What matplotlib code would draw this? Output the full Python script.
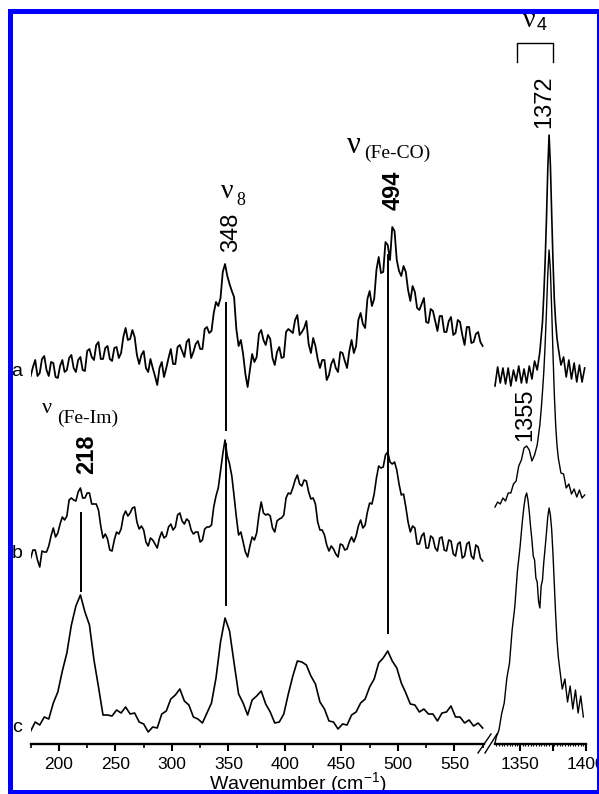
import matplotlib
matplotlib.use('Agg')
import matplotlib.pyplot as plt
from matplotlib.lines import Line2D
from matplotlib.patches import Rectangle

plt.rcParams['font.family'] = ['Liberation Sans', 'DejaVu Sans']
plt.rcParams['mathtext.fontset'] = 'custom'
plt.rcParams['mathtext.rm'] = 'Liberation Sans'

# ---------------- data (Raman intensity, arbitrary units incl. stacking offset) ----------------
wn_left_fine = [175, 177, 179, 181, 183, 185, 187, 189, 191, 193, 195, 197, 199, 201, 203, 205, 207, 209,
                211, 213, 215, 217, 219, 221, 223, 225, 227, 229, 231, 233, 235, 237, 239, 241, 243, 245,
                247, 249, 251, 253, 255, 257, 259, 261, 263, 265, 267, 269, 271, 273, 275, 277, 279, 281,
                283, 285, 287, 289, 291, 293, 295, 297, 299, 301, 303, 305, 307, 309, 311, 313, 315, 317,
                319, 321, 323, 325, 327, 329, 331, 333, 335, 337, 339, 341, 343, 345, 347, 349, 351, 353,
                355, 357, 359, 361, 363, 365, 367, 369, 371, 373, 375, 377, 379, 381, 383, 385, 387, 389,
                391, 393, 395, 397, 399, 401, 403, 405, 407, 409, 411, 413, 415, 417, 419, 421, 423, 425,
                427, 429, 431, 433, 435, 437, 439, 441, 443, 445, 447, 449, 451, 453, 455, 457, 459, 461,
                463, 465, 467, 469, 471, 473, 475, 477, 479, 481, 483, 485, 487, 489, 491, 493, 495, 497,
                499, 501, 503, 505, 507, 509, 511, 513, 515, 517, 519, 521, 523, 525, 527, 529, 531, 533,
                535, 537, 539, 541, 543, 545, 547, 549, 551, 553, 555, 557, 559, 561, 563, 565, 567, 569,
                571, 573, 575]

spec_a_left = [368, 377, 384, 368, 371, 385, 388, 374, 368, 382, 381, 367, 366, 378, 384, 372, 374, 386, 389, 376,
               372, 384, 387, 374, 373, 393, 395, 387, 384, 399, 402, 385, 385, 396, 398, 385, 383, 396, 397, 386,
               391, 407, 416, 404, 405, 414, 407, 389, 380, 389, 393, 376, 372, 385, 376, 368, 359, 376, 382, 367,
               376, 386, 395, 380, 380, 397, 399, 393, 387, 402, 405, 386, 392, 400, 403, 395, 395, 415, 417, 411,
               413, 431, 442, 438, 446, 472, 480, 468, 460, 453, 447, 415, 398, 404, 390, 370, 357, 374, 390, 382,
               387, 410, 414, 404, 399, 409, 405, 386, 379, 392, 397, 386, 387, 412, 415, 413, 411, 424, 429, 409,
               412, 416, 423, 400, 391, 406, 398, 385, 376, 384, 384, 364, 369, 380, 385, 376, 372, 392, 391, 383,
               376, 393, 404, 391, 398, 424, 431, 420, 416, 445, 453, 438, 445, 474, 487, 471, 472, 502, 499, 484,
               517, 513, 484, 473, 468, 478, 472, 454, 443, 458, 452, 436, 434, 440, 446, 422, 421, 435, 433, 423,
               413, 428, 428, 412, 412, 423, 427, 409, 411, 424, 422, 409, 399, 417, 417, 401, 402, 410, 412, 402,
               398]

spec_b_left = [186, 194, 194, 184, 177, 193, 192, 192, 198, 208, 216, 207, 211, 220, 227, 224, 228, 244, 246, 244,
               243, 252, 256, 246, 246, 251, 251, 240, 240, 240, 234, 218, 206, 210, 205, 194, 193, 204, 212, 210,
               215, 228, 233, 228, 231, 236, 237, 222, 215, 218, 214, 202, 198, 206, 204, 200, 196, 206, 212, 206,
               208, 217, 220, 214, 217, 229, 231, 223, 220, 225, 223, 214, 210, 212, 212, 202, 204, 215, 217, 217,
               219, 237, 248, 256, 273, 290, 304, 288, 280, 268, 248, 227, 209, 212, 202, 192, 187, 198, 207, 204,
               211, 229, 242, 231, 229, 230, 228, 216, 212, 223, 225, 226, 229, 246, 251, 250, 256, 264, 269, 260,
               258, 264, 263, 252, 245, 246, 240, 222, 214, 214, 209, 199, 193, 198, 195, 190, 187, 200, 199, 194,
               195, 202, 207, 202, 208, 218, 224, 216, 219, 232, 241, 240, 250, 266, 278, 276, 277, 289, 292, 282,
               280, 282, 274, 260, 249, 250, 237, 222, 212, 218, 216, 200, 200, 208, 211, 196, 196, 208, 206, 196,
               193, 206, 207, 194, 193, 204, 203, 190, 188, 200, 202, 186, 188, 200, 202, 188, 185, 199, 197, 186,
               183]

wn_left_c = [175, 179, 183, 187, 191, 195, 199, 203, 207, 211, 215, 219, 223, 227, 231, 235, 239, 243,
             247, 251, 255, 259, 263, 267, 271, 275, 279, 283, 287, 291, 295, 299, 303, 307, 311, 315,
             319, 323, 327, 331, 335, 339, 343, 347, 351, 355, 359, 363, 367, 371, 375, 379, 383, 387,
             391, 395, 399, 403, 407, 411, 415, 419, 423, 427, 431, 435, 439, 443, 447, 451, 455, 459,
             463, 467, 471, 475, 479, 483, 487, 491, 495, 499, 503, 507, 511, 515, 519, 523, 527, 531,
             535, 539, 543, 547, 551, 555, 559, 563, 567, 571, 575]

spec_c_left = [13, 22, 19, 27, 25, 41, 52, 73, 91, 119,
               138, 149, 132, 119, 84, 57, 29, 29, 28, 34,
               31, 37, 30, 31, 22, 20, 12, 17, 16, 30,
               33, 45, 49, 55, 43, 39, 27, 25, 21, 31,
               41, 66, 102, 126, 113, 81, 50, 41, 29, 44,
               48, 53, 40, 32, 21, 22, 30, 50, 68, 83,
               82, 79, 68, 60, 42, 35, 23, 22, 15, 20,
               19, 29, 32, 41, 45, 57, 65, 81, 86, 93,
               83, 76, 61, 51, 40, 39, 32, 35, 30, 30,
               23, 31, 32, 38, 27, 27, 21, 24, 18, 21, 16]

wn_ab_right = [1331, 1333, 1335, 1337, 1339, 1341, 1343, 1345, 1347, 1349, 1351, 1353, 1355, 1357,
               1359, 1361, 1363, 1365, 1366, 1367, 1368, 1369, 1370, 1371, 1372, 1373, 1374, 1375,
               1376, 1377, 1378, 1379, 1381, 1383, 1385, 1387, 1389, 1391, 1393, 1395, 1397, 1399]

spec_a_right = [358, 377, 361, 376, 360, 376, 358, 374, 363, 378,
                361, 375, 361, 378, 365, 383, 374, 392, 407, 422,
                449, 482, 524, 574, 609, 579, 529, 482, 444, 422,
                406, 396, 379, 387, 367, 384, 365, 381, 362, 379, 362, 376]

spec_b_right = [237, 242, 240, 246, 243, 251, 251, 260, 263, 278,
                284, 296, 298, 294, 283, 289, 299, 319, 334, 352,
                372, 399, 432, 469, 494, 474, 434, 389, 349, 319,
                299, 286, 271, 270, 256, 260, 250, 255, 247, 254, 246, 249]

wn_c_right = [1331, 1332, 1334, 1336, 1338, 1340, 1342, 1344, 1346, 1348, 1350, 1351, 1352, 1353,
              1354, 1355, 1356, 1357, 1358, 1359, 1360, 1361, 1362, 1363, 1364, 1365, 1366, 1367,
              1368, 1369, 1370, 1371, 1372, 1373, 1374, 1375, 1376, 1377, 1378, 1379, 1380, 1382,
              1384, 1386, 1388, 1390, 1392, 1394, 1396, 1398]

spec_c_right = [1, 7, 14, 30, 41, 66, 81, 114, 137, 173,
                197, 212, 226, 238, 247, 251, 244, 232, 217, 204,
                188, 184, 166, 162, 143, 136, 158, 164, 182, 196,
                211, 227, 236, 229, 214, 189, 159, 129, 104, 87,
                76, 55, 65, 42, 58, 35, 54, 31, 48, 27]

# vertical marker lines: (wavenumber, intensity top, intensity bottom)
marker_lines = [(219.5, 231, 153), (348, 441, 314), (348, 300, 139), (491.5, 489, 111)]

left_major = [200, 250, 300, 350, 400, 450, 500, 550]
left_minor = [175, 225, 275, 325, 375, 425, 475, 525, 575]
right_major = [1350, 1375, 1400]
right_major_labels = ['1350', '', '1400']
right_minor = [1332, 1334, 1336, 1338, 1340, 1342, 1344, 1346, 1348, 1352, 1354, 1356, 1358, 1360,
               1362, 1364, 1366, 1368, 1370, 1372, 1374, 1376, 1378, 1380, 1382, 1384, 1386, 1388,
               1390, 1392, 1394, 1396, 1398]

trace_names = ['a', 'b', 'c']

# ---------------- figure ----------------
W, H = 599, 794
fig = plt.figure(figsize=(W / 100, H / 100), dpi=100)


def fx(px):
    return px / W


def fy(py):
    return 1 - py / H


axL = fig.add_axes([fx(30.7), fy(744), fx(484) - fx(30.7), fy(0) - fy(744)])
axR = fig.add_axes([fx(495), fy(744), fx(586) - fx(495), fy(0) - fy(744)])

for ax in (axL, axR):
    ax.set_ylim(0, 744)
    for s in ('left', 'right', 'top'):
        ax.spines[s].set_visible(False)
    ax.spines['bottom'].set_linewidth(1.7)
    ax.yaxis.set_visible(False)
    ax.patch.set_visible(False)
    ax.tick_params(axis='x', which='major', direction='out', length=5, width=1.5,
                   labelsize=12.5, pad=4.5)
    ax.tick_params(axis='x', which='minor', direction='out', length=3, width=1.2)

axL.set_xlim(175, 576.2)
axL.set_xticks(left_major)
axL.set_xticks(left_minor, minor=True)

axR.set_xlim(1331, 1400)
axR.set_xticks(right_major)
axR.set_xticklabels(right_major_labels)
axR.set_xticks(right_minor, minor=True)
axR.tick_params(axis='x', which='minor', length=1.5, width=0.8)

axL.plot(wn_left_fine, spec_a_left, color='black', lw=1.3)
axL.plot(wn_left_fine, spec_b_left, color='black', lw=1.2)
axL.plot(wn_left_c, spec_c_left, color='black', lw=1.2)
axR.plot(wn_ab_right, spec_a_right, color='black', lw=1.2, clip_on=False)
axR.plot(wn_ab_right, spec_b_right, color='black', lw=1.0, clip_on=False)
axR.plot(wn_c_right, spec_c_right, color='black', lw=1.0, clip_on=False)

for x, ytop, ybot in marker_lines:
    axL.plot([x, x], [ybot, ytop], color='black', lw=1.4)

serif = ['Liberation Serif', 'DejaVu Serif']
# nu (Fe-Im)
axL.text(184.7, 331, 'ν', family=serif, fontsize=16, ha='left', va='baseline')
axL.text(198.8, 321, '(Fe-Im)', family=serif, fontsize=14, ha='left', va='baseline')
axL.text(224.5, 290, '218', rotation=90, ha='center', va='center', fontsize=17, fontweight='bold')
# nu 8
axL.text(343.5, 546, 'ν', family=serif, fontsize=20, ha='left', va='baseline')
axL.text(357, 539, '8', family=serif, fontsize=13, ha='left', va='baseline')
axL.text(352, 512, '348', rotation=90, ha='center', va='center', fontsize=17)
# nu (Fe-CO)
axL.text(454.6, 591, 'ν', family=serif, fontsize=22, ha='left', va='baseline')
axL.text(470.5, 586, '(Fe-CO)', family=serif, fontsize=14, ha='left', va='baseline')
axL.text(495.8, 554, '494', rotation=90, ha='center', va='center', fontsize=17, fontweight='bold')
# right side
axR.text(1368.2, 642, '1372', rotation=90, ha='center', va='center', fontsize=17)
axR.text(1353.8, 329, '1355', rotation=90, ha='center', va='center', fontsize=17)
axR.text(1352.3, 717, 'ν', family=serif, fontsize=20, ha='left', va='baseline', clip_on=False)
axR.text(1362.9, 714, '4', family='Liberation Sans', fontsize=13, ha='left', va='baseline')
axR.plot([1347.7, 1347.7, 1375, 1375], [682, 701, 701, 682], color='black', lw=1.0, clip_on=False)

# trace letters
for name, ypx in zip(trace_names, [372, 553, 727]):
    fig.text(fx(17), fy(ypx), name, fontsize=14, ha='center', va='center')

fig.text(fx(298), fy(784), 'Wavenumber (cm$^{-1}$)', ha='center', va='center', fontsize=14)

# axis break marks
for x0, x1 in ((478, 491), (485, 497)):
    fig.add_artist(Line2D([fx(x0), fx(x1)], [fy(753), fy(734)], transform=fig.transFigure,
                          color='black', lw=1.0))

# blue frame
fig.add_artist(Rectangle((fx(9.5), fy(792)), fx(598.5) - fx(9.5), fy(10.5) - fy(792),
                         transform=fig.transFigure, fill=False, edgecolor='#0000ff',
                         lw=3.6, zorder=100))

fig.savefig('out.png', dpi=100)
